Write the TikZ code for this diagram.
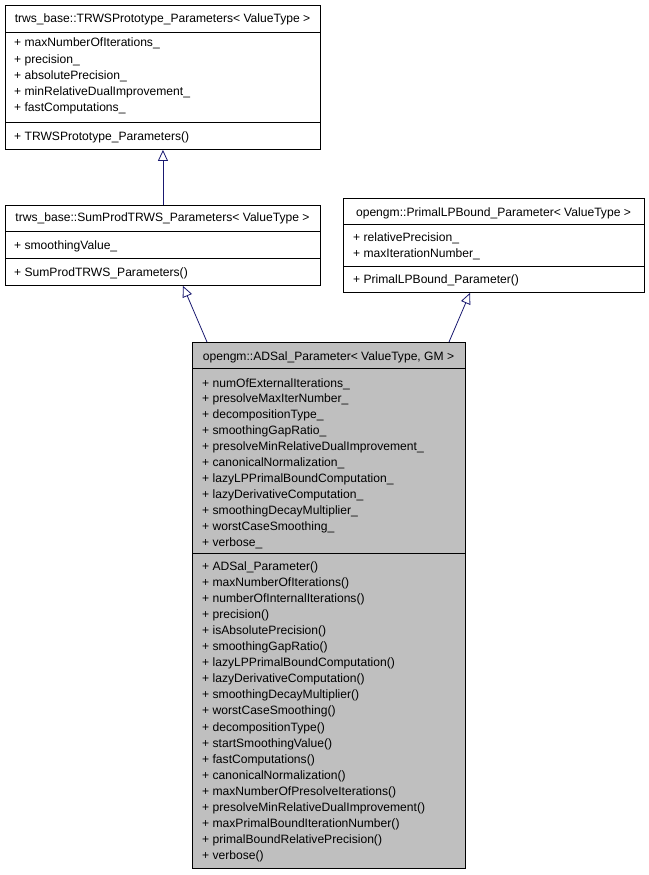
\documentclass[tikz,border=0pt]{standalone}
\usepackage{fontspec}
\setmainfont{Liberation Sans}
\usetikzlibrary{arrows.meta,calc}
\definecolor{navyline}{HTML}{191970}
\definecolor{boxgray}{HTML}{BFBFBF}
\tikzset{
  umlbox/.style={draw=black, line width=0.9pt, rectangle, inner sep=0pt, anchor=north west},
  sepline/.style={draw=black, line width=0.9pt},
  txt/.style={font=\fontsize{12.1}{14}\selectfont, inner sep=0pt, anchor=base west},
  ttl/.style={font=\fontsize{12.1}{14}\selectfont, inner sep=0pt, anchor=base},
  inh/.style={draw=navyline, line width=0.8pt, -{Triangle[open, length=11pt, width=10pt, fill=white]}}
}
\begin{document}
\begin{tikzpicture}[x=1pt,y=-1pt]
\useasboundingbox (0,0) rectangle (648,875);
% Box 1: TRWSPrototype_Parameters
\node[umlbox, minimum width=315pt, minimum height=144pt] (b1) at (5,5) {};
\draw[sepline] (b1.west |- 0,32) -- (b1.east |- 0,32);
\draw[sepline] (b1.west |- 0,122) -- (b1.east |- 0,122);
\node[ttl] (b1t) at (162.5,23) {trws\_base::TRWSPrototype\_Parameters< ValueType >};
\foreach \t [count=\i from 0] in {maxNumberOfIterations\_, precision\_, absolutePrecision\_, minRelativeDualImprovement\_, fastComputations\_}
  \node[txt] at (14,47+16.1*\i) {+ \t};
\node[txt] (b1o) at (14,140) {+ TRWSPrototype\_Parameters()};
% Box 2: SumProdTRWS_Parameters
\node[umlbox, minimum width=315pt, minimum height=80pt] (b2) at (5,205) {};
\draw[sepline] (b2.west |- 0,231) -- (b2.east |- 0,231);
\draw[sepline] (b2.west |- 0,258) -- (b2.east |- 0,258);
\node[ttl] (b2t) at (162.5,221) {trws\_base::SumProdTRWS\_Parameters< ValueType >};
\node[txt] (b2a) at (14,249) {+ smoothingValue\_};
\node[txt] (b2o) at (14,276) {+ SumProdTRWS\_Parameters()};
% Box 3: PrimalLPBound_Parameter
\node[umlbox, minimum width=301pt, minimum height=94pt] (b3) at (343,198) {};
\draw[sepline] (b3.west |- 0,224) -- (b3.east |- 0,224);
\draw[sepline] (b3.west |- 0,266) -- (b3.east |- 0,266);
\node[ttl] (b3t) at (493.5,216) {opengm::PrimalLPBound\_Parameter< ValueType >};
\node[txt] (b3a) at (353,241) {+ relativePrecision\_};
\node[txt] (b3b) at (353,257) {+ maxIterationNumber\_};
\node[txt] (b3o) at (353,283) {+ PrimalLPBound\_Parameter()};
% Box 4: ADSal_Parameter
\node[umlbox, fill=boxgray, minimum width=273pt, minimum height=526pt] (b4) at (192,342) {};
\draw[sepline] (b4.west |- 0,368) -- (b4.east |- 0,368);
\draw[sepline] (b4.west |- 0,553) -- (b4.east |- 0,553);
\node[ttl] (b4t) at (328.5,360) {opengm::ADSal\_Parameter< ValueType, GM >};
\foreach \t [count=\i from 0] in {numOfExternalIterations\_, presolveMaxIterNumber\_, decompositionType\_, smoothingGapRatio\_, presolveMinRelativeDualImprovement\_, canonicalNormalization\_, lazyLPPrimalBoundComputation\_, lazyDerivativeComputation\_, smoothingDecayMultiplier\_, worstCaseSmoothing\_, verbose\_}
  \node[txt] at (202,387+15.9*\i) {+ \t};
\foreach \t [count=\i from 0] in {ADSal\_Parameter(), maxNumberOfIterations(), numberOfInternalIterations(), precision(), isAbsolutePrecision(), smoothingGapRatio(), lazyLPPrimalBoundComputation(), lazyDerivativeComputation(), smoothingDecayMultiplier(), worstCaseSmoothing(), decompositionType(), startSmoothingValue(), fastComputations(), canonicalNormalization(), maxNumberOfPresolveIterations(), presolveMinRelativeDualImprovement(), maxPrimalBoundIterationNumber(), primalBoundRelativePrecision(), verbose()}
  \node[txt] at (202,570+16.1*\i) {+ \t};
% Inheritance arrows
\draw[inh] (b2.north) -- (b1.south);
\draw[inh] ([xshift=15pt]b4.north west) -- ([xshift=178pt]b2.south west);
\draw[inh] ([xshift=257pt]b4.north west) -- ([xshift=127pt]b3.south west);
\end{tikzpicture}
\end{document}
